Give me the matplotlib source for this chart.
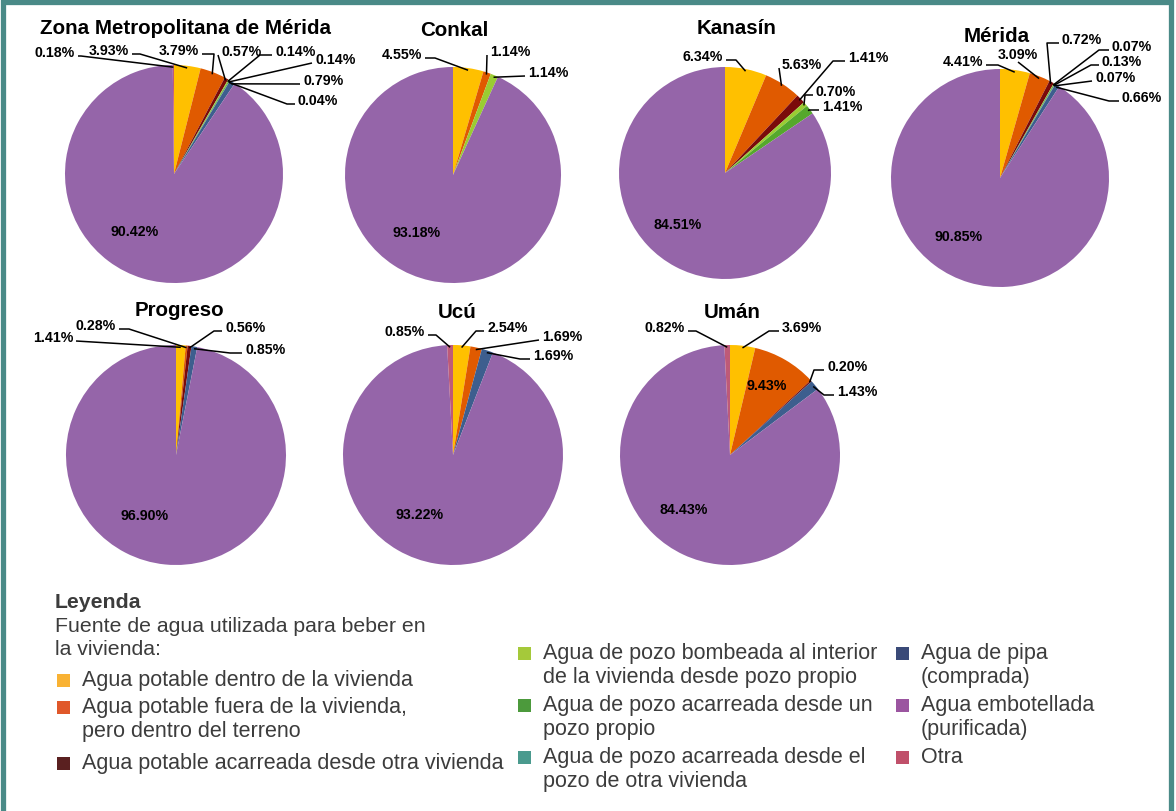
import math
import matplotlib
matplotlib.use("Agg")
import matplotlib.pyplot as plt
from matplotlib.patches import Rectangle

plt.rcParams['font.family'] = ['Liberation Sans', 'DejaVu Sans']

# Categorías, en el orden de las rebanadas (sentido horario desde las 12)
categorias = [
    "Agua potable dentro de la vivienda",
    "Agua potable fuera de la vivienda, pero dentro del terreno",
    "Agua potable acarreada desde otra vivienda",
    "Agua de pozo bombeada al interior de la vivienda desde pozo propio",
    "Agua de pozo acarreada desde un pozo propio",
    "Agua de pozo acarreada desde el pozo de otra vivienda",
    "Agua de pipa (comprada)",
    "Agua embotellada (purificada)",
    "Otra",
]
colores_pie = ["#FFC000", "#E05A00", "#7A0A0A", "#9ACD32", "#55A82C",
               "#4A9C92", "#3D5E8E", "#9565A9", "#BE5A78"]
colores_ley = ["#F9B233", "#E0582A", "#5A2020", "#A5C93A", "#4C9A3C",
               "#4A9A8E", "#3A4A78", "#9B55A0", "#C0506A"]

municipios = ["Zona Metropolitana de Mérida", "Conkal", "Kanasín", "Mérida",
              "Progreso", "Ucú", "Umán"]

# Porcentajes por categoría (0 = no aparece)
zona_metro = [3.93, 3.79, 0.57, 0.14, 0.14, 0.04, 0.79, 90.42, 0.18]
conkal = [4.55, 1.14, 0, 1.14, 0, 0, 0, 93.18, 0]
kanasin = [6.34, 5.63, 1.41, 0.70, 1.41, 0, 0, 84.51, 0]
merida = [4.41, 3.09, 0.72, 0.07, 0.13, 0.07, 0.66, 90.85, 0]
progreso = [1.41, 0.28, 0.56, 0, 0, 0, 0.85, 96.90, 0]
ucu = [2.54, 1.69, 0, 0, 0, 0, 1.69, 93.22, 0.85]
uman = [3.69, 9.43, 0.20, 0, 0, 0, 1.43, 84.43, 0.82]
datos = [zona_metro, conkal, kanasin, merida, progreso, ucu, uman]

# ---- layout (pixeles, y hacia abajo) ----
W, H = 1176, 812
centros = [(174, 175), (453, 176), (725, 174), (1000, 179),
           (176, 456), (453, 456), (730, 456)]
radios = [109, 108, 106, 109, 110, 110, 110]
titulos_pos = [(185, 29), (454, 31), (737, 29), (997, 36),
               (179, 311), (457, 313), (732, 313)]

# etiquetas: (categoria, dx, dy hacia arriba, alineacion, codo)
etiq = [
    [(8, -99, 122, 'right', 3), (0, -45, 124, 'right', 8), (1, 25, 124, 'right', 12),
     (2, 47, 123, 'left', 0), (3, 101, 123, 'left', 12), (4, 141, 115, 'left', 0),
     (6, 129, 94, 'left', 0), (5, 124, 74, 'left', 8), (7, -39, -57, 'in', 0)],
    [(0, -31, 121, 'right', 10), (1, 37, 124, 'left', 0), (3, 75, 103, 'left', 0),
     (7, -36, -57, 'in', 0)],
    [(0, -2, 117, 'right', 10), (1, 57, 109, 'left', 0), (2, 123, 116, 'left', 12),
     (3, 91, 82, 'left', 8), (4, 97, 67, 'left', 10), (7, -47, -51, 'in', 0)],
    [(0, -17, 117, 'right', 12), (1, 18, 124, 'center', 0), (2, 62, 139, 'left', 12),
     (3, 112, 132, 'left', 10), (4, 102, 117, 'left', 8), (5, 95, 101, 'left', 0),
     (6, 122, 81, 'left', 10), (7, -41, -58, 'in', 0)],
    [(0, -103, 118, 'right', 0), (1, -60, 130, 'right', 10), (2, 49, 128, 'left', 8),
     (6, 69, 106, 'left', 12), (7, -31, -60, 'in', 0)],
    [(8, -28, 124, 'right', 8), (0, 34, 128, 'left', 8), (1, 89, 119, 'left', 0),
     (6, 80, 100, 'left', 10), (7, -33, -59, 'in', 0)],
    [(8, -45, 128, 'right', 8), (0, 52, 128, 'left', 10), (1, 37, 70, 'in', 0),
     (2, 97, 89, 'left', 10), (6, 107, 64, 'left', 10), (7, -46, -54, 'in', 0)],
]

fig = plt.figure(figsize=(W / 100, H / 100), dpi=100)
ax = fig.add_axes([0, 0, 1, 1])

for i, vals in enumerate(datos):
    cx, cy = centros[i]
    R = radios[i]
    cy = H - cy
    wedges, _ = ax.pie(vals, colors=colores_pie, startangle=90, counterclock=False,
                       center=(cx, cy), radius=R, wedgeprops=dict(linewidth=0))
    tx, ty = titulos_pos[i]
    ax.text(tx, H - ty, municipios[i], ha='center', va='center',
            fontsize=14.8, fontweight='bold', color='black')
    for cat, dx, dy, ha, codo in etiq[i]:
        txt = f"{vals[cat]:.2f}%"
        x, y = cx + dx, cy + dy
        if ha == 'in':
            ax.text(x, y, txt, ha='center', va='center', fontsize=10.2,
                    fontweight='bold', color='black')
            continue
        w = wedges[cat]
        ang = math.radians((w.theta1 + w.theta2) / 2)
        px, py = cx + 0.98 * R * math.cos(ang), cy + 0.98 * R * math.sin(ang)
        if ha == 'left':
            anc = (x - 3, y - 4)
            codo_p = (anc[0] - codo, anc[1])
        elif ha == 'right':
            anc = (x + 3, y - 4)
            codo_p = (anc[0] + codo, anc[1])
        else:
            anc = (x, y - 8)
            codo_p = anc
        ax.plot([px, codo_p[0], anc[0]], [py, codo_p[1], anc[1]],
                color='black', lw=1.1, solid_capstyle='butt')
        ax.text(x, y, txt, ha=ha, va='center', fontsize=10.2,
                fontweight='bold', color='black')

# ---- leyenda ----
gris = '#3c3c3c'
ax.text(55, H - 603, "Leyenda", ha='left', va='center', fontsize=15.3,
        fontweight='bold', color=gris)
ax.text(55, H - 627, "Fuente de agua utilizada para beber en", ha='left',
        va='center', fontsize=15.3, color=gris)
ax.text(55, H - 650, "la vivienda:", ha='left', va='center', fontsize=15.3, color=gris)

etiquetas_leyenda = [
    "Agua potable dentro de la vivienda",
    "Agua potable fuera de la vivienda,\npero dentro del terreno",
    "Agua potable acarreada desde otra vivienda",
    "Agua de pozo bombeada al interior\nde la vivienda desde pozo propio",
    "Agua de pozo acarreada desde un\npozo propio",
    "Agua de pozo acarreada desde el\npozo de otra vivienda",
    "Agua de pipa\n(comprada)",
    "Agua embotellada\n(purificada)",
    "Otra",
]
ley_pos = [(57, 681), (57, 708), (57, 764),
           (518, 654), (518, 706), (518, 758),
           (896, 654), (896, 706), (896, 758)]
for k, lab in enumerate(etiquetas_leyenda):
    sx, sy = ley_pos[k]
    ax.add_patch(Rectangle((sx, H - sy - 7), 13, 13, facecolor=colores_ley[k],
                           edgecolor='none'))
    for j, linea in enumerate(lab.split("\n")):
        ax.text(sx + 25, H - sy - j * 23.5, linea, ha='left', va='center',
                fontsize=15.5, color=gris)

# marco
ax.add_patch(Rectangle((3, -20), 1168, H - 3 + 20, facecolor='none',
                       edgecolor='#4A8A87', lw=3.8))

ax.set_xlim(0, W)
ax.set_ylim(0, H)
ax.set_aspect('auto')
ax.axis('off')

fig.savefig("out.png", dpi=100)
